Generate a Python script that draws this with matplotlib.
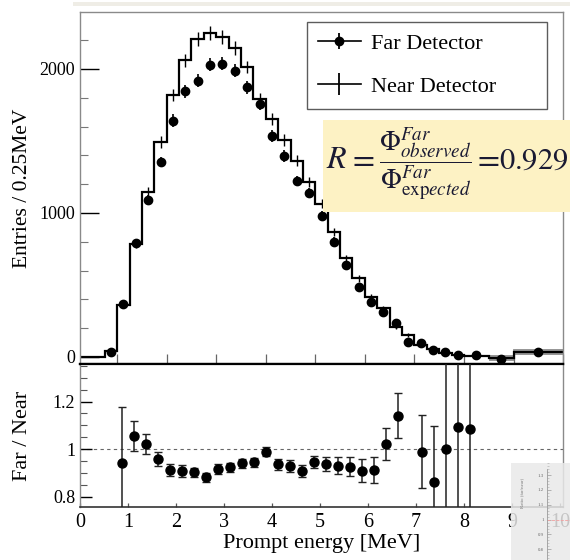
import numpy as np
import matplotlib
matplotlib.use('Agg')
import matplotlib.pyplot as plt
from matplotlib.lines import Line2D
from matplotlib.patches import Rectangle
from matplotlib.ticker import MultipleLocator, FixedLocator, FuncFormatter

plt.rcParams['font.family'] = 'serif'
plt.rcParams['font.serif'] = ['Liberation Serif', 'DejaVu Serif']
plt.rcParams['mathtext.fontset'] = 'stix'

# Near detector prediction: 0.25 MeV bins, wider bins in the tail
near_edges = [0.25, 0.5, 0.75, 1.0, 1.25, 1.5, 1.75, 2.0, 2.25, 2.5, 2.75, 3.0,
              3.25, 3.5, 3.75, 4.0, 4.25, 4.5, 4.75, 5.0, 5.25, 5.5, 5.75, 6.0,
              6.25, 6.5, 6.75, 7.0, 7.25, 7.5, 7.75, 8.0, 8.5, 9.0, 10.0]
near_counts = [0, 0, 42, 361, 785, 1146, 1493, 1819, 2062, 2208, 2250, 2222,
               2146, 2014, 1792, 1653, 1507, 1363, 1213, 1065, 870, 685, 546, 419,
               338, 210, 153, 85, 52, 30, 16, 10, -8, 32]
near_err = [0, 0, 7, 19, 28, 34, 39, 43, 45, 47, 47, 47,
            46, 45, 42, 41, 39, 37, 35, 33, 29, 26, 23, 20,
            18, 15, 12, 9, 7, 6, 4, 5, 15, 15]
N_FINE = 32  # bins drawn with error ticks, the rest get a grey band

# Far detector data
far_energy = [0.875, 1.125, 1.375, 1.625, 1.875, 2.125, 2.375, 2.625, 2.875, 3.125,
              3.375, 3.625, 3.875, 4.125, 4.375, 4.625, 4.875, 5.125, 5.375, 5.625,
              5.875, 6.125, 6.375, 6.625, 6.875, 7.125, 7.375, 7.625, 7.875,
              8.25, 8.75, 9.5]
far_counts = [37, 368, 792, 1090, 1354, 1642, 1847, 1918, 2030, 2037,
              1988, 1874, 1757, 1535, 1395, 1223, 1139, 981, 801, 639,
              488, 384, 315, 234, 104, 95, 46, 31, 14,
              14, -16, 37]
far_err = [10, 25, 30, 35, 38, 42, 45, 45, 47, 47,
           46, 45, 43, 41, 39, 37, 35, 33, 30, 27,
           24, 21, 19, 17, 13, 12, 10, 9, 8,
           8, 8, 10]

# Far / Near ratio
ratio_energy = [0.875, 1.125, 1.375, 1.625, 1.875, 2.125, 2.375, 2.625, 2.875, 3.125,
                3.375, 3.625, 3.875, 4.125, 4.375, 4.625, 4.875, 5.125, 5.375, 5.625,
                5.875, 6.125, 6.375, 6.625, 7.125, 7.375, 7.625, 7.875, 8.125]
ratio_value = [0.94, 1.055, 1.021, 0.958, 0.912, 0.909, 0.902, 0.881, 0.916, 0.923,
               0.94, 0.944, 0.989, 0.935, 0.928, 0.909, 0.944, 0.937, 0.93, 0.926,
               0.909, 0.912, 1.021, 1.14, 0.989, 0.862, 1.0, 1.094, 1.084]
ratio_err = [0.238, 0.065, 0.042, 0.03, 0.025, 0.025, 0.02, 0.02, 0.02, 0.02,
             0.02, 0.02, 0.02, 0.025, 0.025, 0.025, 0.025, 0.03, 0.035, 0.04,
             0.048, 0.056, 0.066, 0.094, 0.155, 0.235, 0.6, 0.6, 0.6]

inset_ticks = [0.8, 0.9, 1.0, 1.1, 1.2, 1.3]

SPINE_GREY = '#8a8a8a'
FORMULA_COLOR = '#1a1a33'

fig = plt.figure(figsize=(5.7, 5.6), dpi=100)
ax_top = fig.add_axes([0.1404, 0.35, 0.8474, 0.6286])
ax_bot = fig.add_axes([0.1404, 0.0946, 0.8474, 0.2554])

# ---- top panel ----
edges = np.array(near_edges)
counts = np.array(near_counts, dtype=float)
nerr = np.array(near_err, dtype=float)
centers = 0.5 * (edges[:-1] + edges[1:])

ax_top.stairs(counts, edges, baseline=None, color='k', lw=1.6, zorder=2)
ax_top.errorbar(centers[:N_FINE], counts[:N_FINE], yerr=nerr[:N_FINE], fmt='none',
                ecolor='k', elinewidth=1.0, zorder=2)
ax_top.stairs(counts[N_FINE:] + nerr[N_FINE:], edges[N_FINE:], baseline=None,
              color='#8c8c8c', lw=1.3, zorder=1)
ax_top.stairs(counts[N_FINE:] - nerr[N_FINE:], edges[N_FINE:], baseline=None,
              color='#8c8c8c', lw=1.3, zorder=1)
ax_top.errorbar(far_energy, far_counts, yerr=far_err, fmt='o', color='k', ms=6,
                elinewidth=1.2, zorder=3)

ax_top.set_xlim(0.25, 10)
ax_top.set_ylim(-49, 2396)
ax_top.yaxis.set_major_locator(FixedLocator([0, 1000, 2000]))
ax_top.yaxis.set_minor_locator(MultipleLocator(200))
ax_top.xaxis.set_major_locator(MultipleLocator(1))
ax_top.tick_params(axis='y', which='major', direction='in', length=13.5, width=1,
                   color='k', labelsize=13, pad=3.5)
ax_top.tick_params(axis='y', which='minor', direction='in', length=6, width=0.8,
                   color='#777777')
ax_top.tick_params(axis='x', which='major', direction='in', length=7, width=0.9,
                   color='#666666', labelbottom=False)
ax_top.set_ylabel('Entries / 0.25MeV', fontsize=15.5)
ax_top.yaxis.set_label_coords(-0.1, 0.5)
for side in ['left', 'right', 'top']:
    ax_top.spines[side].set_color(SPINE_GREY)
    ax_top.spines[side].set_linewidth(1.0)
ax_top.spines['bottom'].set_color('k')
ax_top.spines['bottom'].set_linewidth(1.6)

far_handle = (Line2D([], [], color='k', lw=1.2),
              Line2D([], [], marker='|', ms=12, mew=1.3, color='k', ls='none'),
              Line2D([], [], marker='o', ms=6, color='k', ls='none'))
near_handle = (Line2D([], [], color='k', lw=1.2),
               Line2D([], [], marker='|', ms=16, mew=1.3, color='k', ls='none'))
# trailing spaces widen the box like the fixed-size ROOT legend
leg = ax_top.legend([far_handle, near_handle],
                    ['Far Detector' + ' ' * 9, 'Near Detector' + ' ' * 7],
                    loc='upper left', bbox_to_anchor=(0.4694, 0.9725),
                    borderaxespad=0, fontsize=16, frameon=True, fancybox=False,
                    handlelength=1.9, handletextpad=0.45, labelspacing=1.02,
                    borderpad=0.52)
leg.get_frame().set_edgecolor('#333333')
leg.get_frame().set_linewidth(1.0)

# ---- bottom panel ----
ax_bot.axhline(1.0, color='#666666', lw=0.8, ls=(0, (3, 3)), zorder=1)
ax_bot.errorbar(ratio_energy, ratio_value, yerr=ratio_err, fmt='o', color='k',
                ms=6.5, elinewidth=1.1, ecolor='#222222', capsize=3, capthick=1.0,
                zorder=3)
ax_bot.set_xlim(0, 10.06)
ax_bot.set_ylim(0.756, 1.358)
ax_bot.xaxis.set_major_locator(MultipleLocator(1))
ax_bot.yaxis.set_major_locator(FixedLocator([0.8, 1.0, 1.2]))
ax_bot.yaxis.set_major_formatter(FuncFormatter(lambda v, p: '%g' % round(v, 2)))
ax_bot.yaxis.set_minor_locator(MultipleLocator(0.05))
ax_bot.tick_params(axis='y', which='major', direction='in', length=8.4, width=1,
                   color='k', labelsize=13, pad=3.5)
ax_bot.tick_params(axis='y', which='minor', direction='in', length=5, width=0.8,
                   color='#555555')
ax_bot.tick_params(axis='x', which='major', direction='in', length=3, width=0.9,
                   color='#555555', labelsize=14.5, pad=4)
ax_bot.set_ylabel('Far / Near', fontsize=16)
ax_bot.yaxis.set_label_coords(-0.1, 0.5)
ax_bot.set_xlabel('Prompt energy [MeV]', fontsize=16, labelpad=2)
for side in ['left', 'right']:
    ax_bot.spines[side].set_color(SPINE_GREY)
    ax_bot.spines[side].set_linewidth(1.0)
ax_bot.spines['top'].set_color('k')
ax_bot.spines['top'].set_linewidth(1.6)
ax_bot.spines['bottom'].set_color('#333333')
ax_bot.spines['bottom'].set_linewidth(1.2)

# ---- slide decorations ----
fig.patches.append(Rectangle((0.128, 0.989), 0.872, 0.0075, transform=fig.transFigure,
                             facecolor='#efede6', edgecolor='none', zorder=1))
fig.patches.append(Rectangle((0.567, 0.622), 0.433, 0.164, transform=fig.transFigure,
                             facecolor='#fdf2c4', edgecolor='none', zorder=1))
formula_base = 0.6995
fig.text(0.572, formula_base, r'$R$', ha='left', va='baseline', fontsize=23,
         color=FORMULA_COLOR, zorder=3)
fig.text(0.635, formula_base, r'$=$', ha='center', va='baseline', fontsize=23,
         color=FORMULA_COLOR, zorder=3)
fig.text(0.746, formula_base,
         r'$\dfrac{\Phi^{Far}_{observed}}{\Phi^{Far}_{\mathrm{exp}ected}}$',
         ha='center', va='baseline', fontsize=19.5, color=FORMULA_COLOR, zorder=3)
fig.text(0.853, formula_base, r'$=$', ha='center', va='baseline', fontsize=23,
         color=FORMULA_COLOR, zorder=3)
fig.text(0.997, formula_base, r'$0.929$', ha='right', va='baseline', fontsize=22,
         color=FORMULA_COLOR, zorder=3)

# faded thumbnail of another plot in the corner
iax = fig.add_axes([0.896, 0.0, 0.104, 0.173], zorder=5)
iax.patch.set_facecolor('#e9e9e9')
iax.patch.set_alpha(0.85)
iax.set_xlim(0, 1)
iax.set_ylim(0.728, 1.381)
for side in ['right', 'top', 'bottom']:
    iax.spines[side].set_visible(False)
iax.spines['left'].set_position(('axes', 0.607))
iax.spines['left'].set_color('#9a9a9a')
iax.spines['left'].set_linewidth(0.6)
iax.spines['left'].set_bounds(0.728, 1.34)
iax.set_xticks([])
iax.yaxis.set_major_locator(FixedLocator(inset_ticks))
iax.yaxis.set_major_formatter(FuncFormatter(lambda v, p: '%g' % round(v, 2)))
iax.yaxis.set_minor_locator(MultipleLocator(0.02))
iax.tick_params(axis='y', which='major', direction='in', length=3, width=0.5,
                color='#999999', labelsize=3.5, labelcolor='#666666', pad=2)
iax.tick_params(axis='y', which='minor', direction='in', length=1.5, width=0.4,
                color='#aaaaaa')
iax.axhline(1.0, xmin=0.607, xmax=1.0, color='#f2a0a0', lw=0.6, ls='--')
iax.text(0.2, 1.18, 'Ratio (far/near)', rotation=90, fontsize=3.5, color='#777777',
         ha='center', va='center')

fig.savefig('out.png', dpi=100, facecolor='white')
